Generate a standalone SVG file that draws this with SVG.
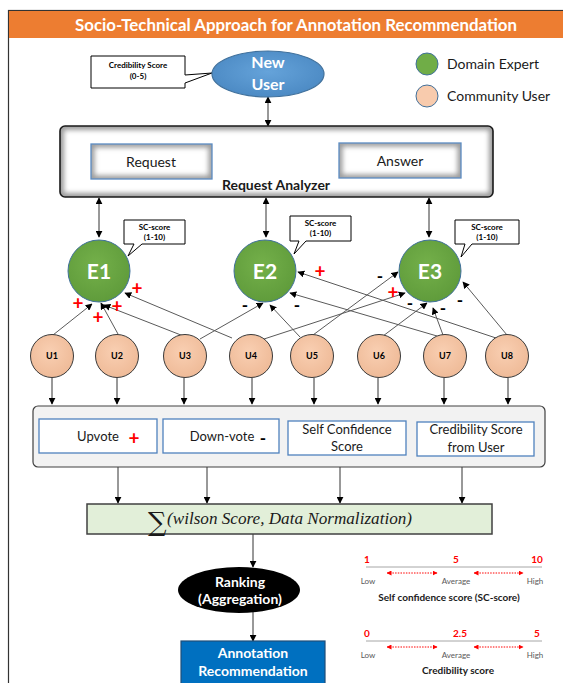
<svg xmlns="http://www.w3.org/2000/svg" width="563" height="683" viewBox="0 0 563 683">
<defs>
<style>
.t{font-family:Lato,"Liberation Sans",sans-serif}
.b{font-weight:bold}
.mid{text-anchor:middle}
.ln{stroke:#404040;stroke-width:1;fill:none}
.arr{stroke:#333;stroke-width:1;fill:none;marker-end:url(#ah)}
.dbl{stroke:#333;stroke-width:1;fill:none;marker-start:url(#ah);marker-end:url(#ah)}
.ue{stroke:#5a5a5a;stroke-width:1;fill:none;marker-end:url(#ah)}
.uc{fill:url(#gU);stroke:#3a3a3a;stroke-width:1}
.ul{font-family:Lato,"Liberation Sans",sans-serif;font-size:9px;font-weight:bold;text-anchor:middle;fill:#000}
.ec{fill:url(#gE);stroke:#41719c;stroke-width:1}
.el{font-family:Lato,"Liberation Sans",sans-serif;font-size:21px;font-weight:bold;text-anchor:middle;fill:#fff}
.plus{font-family:Lato,"Liberation Sans",sans-serif;fill:#ff0000;font-size:19px;font-weight:bold;text-anchor:middle}
.minus{font-family:Lato,"Liberation Sans",sans-serif;fill:#000;font-size:17px;font-weight:bold;text-anchor:middle}
.call{fill:#fff;stroke:#000;stroke-width:1}
.ct{font-family:Lato,"Liberation Sans",sans-serif;font-size:8px;font-weight:bold;text-anchor:middle;fill:#000}
.box{fill:#fff;stroke:#4f81bd;stroke-width:1.3}
.bt{font-family:Lato,"Liberation Sans",sans-serif;font-size:13px;text-anchor:middle;fill:#1a1a1a}
.num{font-family:Lato,"Liberation Sans",sans-serif;font-size:10px;font-weight:bold;fill:#ff0000;text-anchor:middle}
.lvl{font-family:Lato,"Liberation Sans",sans-serif;font-size:8px;fill:#595959;text-anchor:middle}
.sl{stroke:#a6a6a6;stroke-width:1}
.dot{stroke:#ff0000;stroke-width:1;stroke-dasharray:1.5 1.2;fill:none;marker-start:url(#ar);marker-end:url(#ar)}
</style>
<marker id="ah" viewBox="0 0 10 10" refX="9" refY="5" markerWidth="7" markerHeight="7" markerUnits="userSpaceOnUse" orient="auto-start-reverse"><path d="M0,0 L10,5 L0,10 z" fill="#000"/></marker>
<marker id="ar" viewBox="0 0 10 10" refX="9" refY="5" markerWidth="5" markerHeight="5" markerUnits="userSpaceOnUse" orient="auto-start-reverse"><path d="M0,0 L10,5 L0,10 z" fill="#ff0000"/></marker>
<radialGradient id="gE" cx="45%" cy="40%" r="65%"><stop offset="0" stop-color="#74b04a"/><stop offset="1" stop-color="#5e9a3a"/></radialGradient>
<radialGradient id="gU" cx="45%" cy="40%" r="65%"><stop offset="0" stop-color="#f9cfb2"/><stop offset="1" stop-color="#eeb996"/></radialGradient>
<radialGradient id="gB" cx="50%" cy="45%" r="60%"><stop offset="0" stop-color="#65a3da"/><stop offset="1" stop-color="#4a88c2"/></radialGradient>
<filter id="blur" x="-10%" y="-10%" width="120%" height="120%"><feGaussianBlur stdDeviation="2.5"/></filter>
<clipPath id="cRA"><rect x="60" y="126" width="433" height="71" rx="5"/></clipPath>
<clipPath id="cRQ"><rect x="91" y="144" width="121" height="35"/></clipPath>
<clipPath id="cAN"><rect x="339" y="143" width="122" height="35"/></clipPath>
</defs>

<rect x="0" y="0" width="563" height="683" fill="#fff"/>

<!-- frame and title -->
<g id="frame">
<rect x="8.5" y="10.5" width="570" height="690" fill="#fff" stroke="#333" stroke-width="1.2"/>
<rect x="9" y="11" width="554" height="27" fill="#ed7d31"/>
<text x="296" y="31" class="t b mid" font-size="17" fill="#fff" textLength="442" lengthAdjust="spacingAndGlyphs">Socio-Technical Approach for Annotation Recommendation</text>
</g>

<!-- legend -->
<g id="legend">
<circle cx="427" cy="64" r="11" fill="#70ad47" stroke="#41719c" stroke-width="1"/>
<text x="447" y="69" class="t" font-size="14" fill="#1a1a1a">Domain Expert</text>
<circle cx="427" cy="96" r="11" fill="#f8cbad" stroke="#41719c" stroke-width="1"/>
<text x="447" y="101" class="t" font-size="14" fill="#1a1a1a">Community User</text>
</g>

<!-- connectors -->
<g id="connectors">
<line x1="268" y1="97" x2="268" y2="126" class="dbl"/>
<line x1="212" y1="162" x2="339" y2="162" class="dbl"/>
<line x1="99" y1="198" x2="99" y2="237" class="dbl"/>
<line x1="266" y1="198" x2="266" y2="237" class="dbl"/>
<line x1="429" y1="198" x2="429" y2="237" class="dbl"/>
<!-- users to experts -->
<line x1="53" y1="335" x2="92" y2="304" class="ue"/>
<line x1="118" y1="334" x2="101" y2="303" class="ue"/>
<line x1="186" y1="337" x2="104" y2="305" class="ue"/>
<line x1="232" y1="338" x2="125" y2="293" class="ue"/>
<line x1="200" y1="339" x2="263" y2="303" class="ue"/>
<line x1="300" y1="337" x2="270" y2="305" class="ue"/>
<line x1="437" y1="336" x2="290" y2="293" class="ue"/>
<line x1="496" y1="338" x2="298" y2="272" class="ue"/>
<line x1="264" y1="339" x2="405" y2="293" class="ue"/>
<line x1="313" y1="335" x2="398" y2="272" class="ue"/>
<line x1="383" y1="336" x2="427" y2="303" class="ue"/>
<line x1="443" y1="335" x2="433" y2="308" class="ue"/>
<line x1="507" y1="335" x2="463" y2="282" class="ue"/>
<!-- users to scoring box -->
<line x1="52" y1="378" x2="52" y2="404" class="arr"/>
<line x1="117" y1="378" x2="117" y2="404" class="arr"/>
<line x1="184" y1="378" x2="184" y2="404" class="arr"/>
<line x1="252" y1="378" x2="252" y2="404" class="arr"/>
<line x1="314" y1="378" x2="314" y2="404" class="arr"/>
<line x1="378" y1="378" x2="378" y2="404" class="arr"/>
<line x1="444" y1="378" x2="444" y2="404" class="arr"/>
<line x1="508" y1="378" x2="508" y2="404" class="arr"/>
<!-- scoring box to sum -->
<line x1="118" y1="467" x2="118" y2="503" class="arr"/>
<line x1="207" y1="467" x2="207" y2="503" class="arr"/>
<line x1="340" y1="467" x2="340" y2="503" class="arr"/>
<line x1="462" y1="467" x2="462" y2="503" class="arr"/>
<line x1="253" y1="534" x2="253" y2="567" class="arr"/>
<line x1="253" y1="612" x2="253" y2="641" class="arr"/>
</g>

<!-- signs -->
<g id="signs">
<text x="78" y="310" class="plus">+</text>
<text x="98" y="324" class="plus">+</text>
<text x="117" y="313" class="plus">+</text>
<text x="137" y="295" class="plus">+</text>
<text x="320" y="278" class="plus">+</text>
<text x="393" y="299" class="plus">+</text>
<text x="245" y="311" class="minus">-</text>
<text x="297" y="311" class="minus">-</text>
<text x="380" y="282" class="minus">-</text>
<text x="410" y="309" class="minus">-</text>
<text x="443" y="314" class="minus">-</text>
<text x="460" y="306" class="minus">-</text>
</g>

<!-- new user -->
<g id="new-user">
<path d="M91,56 H185 V75 L212,73 L185,83 V88 H91 Z" class="call"/>
<text x="138" y="68" class="ct">Credibility Score</text>
<text x="138" y="79" class="ct">(0-5)</text>
<ellipse cx="268" cy="74" rx="56" ry="23" fill="url(#gB)" stroke="#41719c" stroke-width="1.2"/>
<text x="268" y="68" class="t b mid" font-size="16" fill="#fff">New</text>
<text x="268" y="90" class="t b mid" font-size="16" fill="#fff">User</text>
</g>

<!-- request analyzer -->
<g id="request-analyzer">
<rect x="60" y="126" width="433" height="71" rx="5" fill="#fff"/>
<g clip-path="url(#cRA)"><rect x="60" y="126" width="433" height="71" rx="5" fill="none" stroke="#9a9a9a" stroke-width="8" filter="url(#blur)"/></g>
<rect x="60" y="126" width="433" height="71" rx="5" fill="none" stroke="#1a1a1a" stroke-width="1.6"/>
<text x="276" y="190" class="t b mid" font-size="14" fill="#1a1a1a">Request Analyzer</text>
</g>
<g id="request">
<rect x="91" y="144" width="121" height="35" fill="#fff"/>
<g clip-path="url(#cRQ)"><rect x="91" y="144" width="121" height="35" fill="none" stroke="#9a9a9a" stroke-width="7" filter="url(#blur)"/></g>
<rect x="91" y="144" width="121" height="35" fill="none" stroke="#5b8bc2" stroke-width="1.3"/>
<text x="151" y="167" class="t mid" font-size="14" fill="#1a1a1a">Request</text>
</g>
<g id="answer">
<rect x="339" y="143" width="122" height="35" fill="#fff"/>
<g clip-path="url(#cAN)"><rect x="339" y="143" width="122" height="35" fill="none" stroke="#9a9a9a" stroke-width="7" filter="url(#blur)"/></g>
<rect x="339" y="143" width="122" height="35" fill="none" stroke="#5b8bc2" stroke-width="1.3"/>
<text x="400" y="166" class="t mid" font-size="14" fill="#1a1a1a">Answer</text>
</g>

<!-- experts -->
<g id="E1">
<path d="M124,220 H185 V244 H142 L128,256 L134,244 H124 Z" class="call"/>
<text x="154.5" y="230" class="ct">SC-score</text>
<text x="154.5" y="240" class="ct">(1-10)</text>
<circle cx="99" cy="271" r="31" class="ec"/>
<text x="99" y="279" class="el">E1</text>
</g>
<g id="E2">
<path d="M290,216 H351 V241 H306 L294,254 L299,241 H290 Z" class="call"/>
<text x="320.5" y="226" class="ct">SC-score</text>
<text x="320.5" y="236" class="ct">(1-10)</text>
<circle cx="265" cy="271" r="31" class="ec"/>
<text x="265" y="279" class="el">E2</text>
</g>
<g id="E3">
<path d="M455,220 H519 V244 H472 L461,257 L465,244 H455 Z" class="call"/>
<text x="487" y="230" class="ct">SC-score</text>
<text x="487" y="240" class="ct">(1-10)</text>
<circle cx="430" cy="271" r="31" class="ec"/>
<text x="430" y="279" class="el">E3</text>
</g>

<!-- users -->
<g id="U1"><circle cx="52" cy="356" r="21.5" class="uc"/><text x="52" y="359" class="ul">U1</text></g>
<g id="U2"><circle cx="117" cy="356" r="21.5" class="uc"/><text x="117" y="359" class="ul">U2</text></g>
<g id="U3"><circle cx="185" cy="356" r="21.5" class="uc"/><text x="185" y="359" class="ul">U3</text></g>
<g id="U4"><circle cx="251" cy="356" r="21.5" class="uc"/><text x="251" y="359" class="ul">U4</text></g>
<g id="U5"><circle cx="312" cy="356" r="21.5" class="uc"/><text x="312" y="359" class="ul">U5</text></g>
<g id="U6"><circle cx="379" cy="356" r="21.5" class="uc"/><text x="379" y="359" class="ul">U6</text></g>
<g id="U7"><circle cx="445" cy="356" r="21.5" class="uc"/><text x="445" y="359" class="ul">U7</text></g>
<g id="U8"><circle cx="507" cy="356" r="21.5" class="uc"/><text x="507" y="359" class="ul">U8</text></g>

<!-- scoring box -->
<g id="scoring">
<rect x="33" y="406" width="512" height="61" rx="5" fill="#f2f2f2" stroke="#404040" stroke-width="1.2"/>
</g>
<g id="upvote">
<rect x="39" y="419" width="118" height="34" class="box"/>
<text x="98" y="441" class="bt">Upvote</text>
<text x="134" y="444.5" class="plus">+</text>
</g>
<g id="downvote">
<rect x="163" y="419" width="116" height="34" class="box"/>
<text x="222" y="441" class="bt">Down-vote</text>
<text x="263" y="444" class="minus">-</text>
</g>
<g id="self-confidence">
<rect x="288" y="421" width="118" height="34" class="box"/>
<text x="347" y="434" class="bt">Self Confidence</text>
<text x="347" y="451" class="bt">Score</text>
</g>
<g id="credibility">
<rect x="417" y="422" width="117" height="34" class="box"/>
<text x="476" y="434" class="bt">Credibility Score</text>
<text x="476" y="452" class="bt">from User</text>
</g>

<!-- sum -->
<g id="sum">
<rect x="87" y="504" width="405" height="30" fill="#e2efd9" stroke="#404040" stroke-width="1.5"/>
<text x="148" y="531" font-family="'DejaVu Serif',serif" font-size="26" fill="#1a1a1a">∑</text>
<text x="167" y="524" font-family="'Liberation Serif',serif" font-style="italic" font-size="16.5" fill="#1a1a1a" textLength="245" lengthAdjust="spacingAndGlyphs">(wilson Score, Data Normalization)</text>
</g>

<!-- ranking -->
<g id="ranking">
<ellipse cx="239" cy="590" rx="61" ry="23" fill="#000"/>
<text x="240" y="587" class="t b mid" font-size="14" fill="#fff">Ranking</text>
<text x="240" y="604" class="t b mid" font-size="14" fill="#fff">(Aggregation)</text>
</g>

<!-- annotation recommendation -->
<g id="annotation">
<rect x="181" y="641" width="144" height="50" fill="#0070c0" stroke="#1f4e79" stroke-width="1.2"/>
<text x="253" y="658" class="t b mid" font-size="14" fill="#fff">Annotation</text>
<text x="253" y="676" class="t b mid" font-size="14" fill="#fff">Recommendation</text>
</g>

<!-- scales -->
<g id="sc-scale">
<text x="367" y="563" class="num">1</text>
<text x="456" y="563" class="num">5</text>
<text x="537" y="563" class="num">10</text>
<line x1="366" y1="567" x2="542" y2="567" class="sl"/>
<line x1="387" y1="573" x2="437" y2="573" class="dot"/>
<line x1="474" y1="573" x2="523" y2="573" class="dot"/>
<text x="368" y="584" class="lvl">Low</text>
<text x="456" y="584" class="lvl">Average</text>
<text x="535" y="584" class="lvl">High</text>
<text x="449" y="601" class="t b mid" font-size="10" fill="#1a1a1a">Self confidence score (SC-score)</text>
</g>
<g id="cred-scale">
<text x="367" y="637" class="num">0</text>
<text x="460" y="637" class="num">2.5</text>
<text x="537" y="637" class="num">5</text>
<line x1="366" y1="641" x2="542" y2="641" class="sl"/>
<line x1="387" y1="647" x2="437" y2="647" class="dot"/>
<line x1="474" y1="647" x2="523" y2="647" class="dot"/>
<text x="368" y="658" class="lvl">Low</text>
<text x="456" y="658" class="lvl">Average</text>
<text x="535" y="658" class="lvl">High</text>
<text x="458" y="674" class="t b mid" font-size="10" fill="#1a1a1a">Credibility score</text>
</g>
</svg>
